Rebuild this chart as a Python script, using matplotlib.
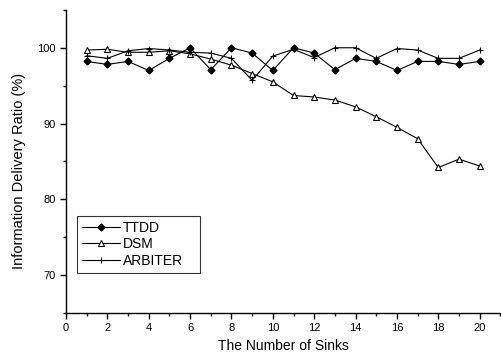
import matplotlib
matplotlib.use('Agg')
import matplotlib.pyplot as plt
from matplotlib.ticker import MultipleLocator

plt.rcParams['font.family'] = ['Liberation Sans', 'DejaVu Sans']

sinks = list(range(1, 21))
ttdd = [98.2, 97.8, 98.2, 97.0, 98.6, 100.0, 97.1, 100.0, 99.3, 97.0,
        100.0, 99.3, 97.1, 98.6, 98.2, 97.0, 98.2, 98.2, 97.8, 98.2]
dsm = [99.7, 99.8, 99.4, 99.4, 99.6, 99.2, 98.5, 97.7, 96.6, 95.5,
       93.7, 93.5, 93.1, 92.2, 90.9, 89.5, 88.0, 84.2, 85.3, 84.4]
arbiter = [98.95, 98.6, 99.6, 99.9, 99.7, 99.4, 99.3, 98.6, 95.7, 98.9,
           99.8, 98.7, 100.0, 100.0, 98.6, 99.9, 99.7, 98.6, 98.6, 99.7]

fig = plt.figure(figsize=(5.01, 3.6), dpi=100)
ax = fig.add_axes([0.1317, 0.1306, 0.867, 0.842])

ax.plot(sinks, ttdd, '-', color='black', lw=0.8, marker='D', ms=3.5, mfc='black', label='TTDD')
ax.plot(sinks, dsm, '-', color='black', lw=0.8, marker='^', ms=3.8, mfc='white', mew=0.8, label='DSM')
ax.plot(sinks, arbiter, '-', color='black', lw=0.8, marker='+', ms=5, mew=0.8, label='ARBITER')

ax.set_xlim(0, 21)
ax.set_ylim(65, 105)
ax.xaxis.set_minor_locator(MultipleLocator(1))
ax.yaxis.set_minor_locator(MultipleLocator(5))
ax.set_xticks(range(0, 21, 2))
ax.set_yticks([70, 80, 90, 100])

ax.spines['top'].set_visible(False)
ax.spines['right'].set_visible(False)
ax.spines['left'].set_linewidth(1.0)
ax.spines['bottom'].set_linewidth(1.0)
ax.tick_params(which='major', direction='out', length=4, width=1, labelsize=8)
ax.tick_params(which='minor', direction='out', length=2.5, width=1)

ax.set_xlabel('The Number of Sinks', fontsize=10)
ax.set_ylabel('Information Delivery Ratio (%)', fontsize=10.5)
ax.yaxis.set_label_coords(-0.092, 0.47)

leg = ax.legend(loc='lower left', bbox_to_anchor=(0.025, 0.132, 0.283, 0.19), mode='expand',
                fontsize=10, frameon=True, fancybox=False, edgecolor='black', handlelength=2.75,
                borderpad=0.35, labelspacing=0.2, handletextpad=0.2, borderaxespad=0)
leg.get_frame().set_linewidth(0.8)

fig.savefig('out.png', dpi=100)
